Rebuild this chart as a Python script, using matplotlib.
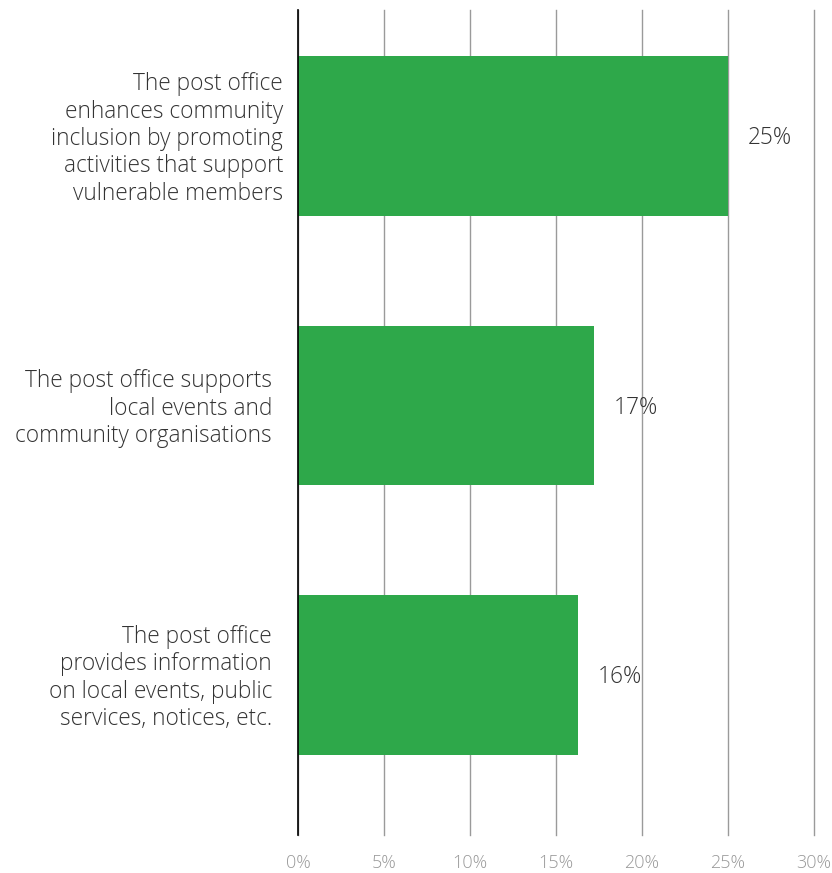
import matplotlib.pyplot as plt
from matplotlib import font_manager

statements = [
    "The post office\nenhances community\ninclusion by promoting\nactivities that support\nvulnerable members",
    "The post office supports\nlocal events and\ncommunity organisations",
    "The post office\nprovides information\non local events, public\nservices, notices, etc.",
]
shares = [25.0, 17.2, 16.3]
ticks = [0, 5, 10, 15, 20, 25, 30]

green = "#2ea84a"
textcol = "#333333"

family = "Open Sans"
names = {f.name for f in font_manager.fontManager.ttflist}
if family not in names:
    family = "DejaVu Sans"
plt.rcParams["font.family"] = [family, "DejaVu Sans"]

fig = plt.figure(figsize=(8.32, 8.73), dpi=100)
ax = fig.add_axes([298 / 832, 38 / 873, 516 / 832, 825 / 873])

pos = list(range(len(statements)))
ax.barh(pos, shares, height=0.593, color=green, zorder=3)
ax.set_xlim(0, 30)
ax.set_ylim(2.593, -0.467)

ax.set_xticks(ticks)
ax.set_xticklabels([f"{t}%" for t in ticks], color="#999999", fontsize=13, fontweight="light")
ax.tick_params(axis="x", length=0, pad=14)
ax.set_yticks([])
ax.grid(axis="x", color="#9a9a9a", linewidth=1, zorder=1)
for gl in ax.get_xgridlines():
    gl.set_clip_on(False)

for s in ["top", "right", "bottom"]:
    ax.spines[s].set_visible(False)
ax.spines["left"].set_color("black")
ax.spines["left"].set_linewidth(1.2)
ax.spines["left"].set_zorder(4)

# statement text sits to the left of the axis line (offsets in px)
offsets = [-15, -26, -26]
for y, txt, dx in zip(pos, statements, offsets):
    ax.annotate(txt, xy=(0, y), xytext=(dx * 0.72, -2.2), textcoords="offset points",
                ha="right", va="center", fontsize=16.3, color=textcol,
                fontweight="light", linespacing=1.19)

for y, v in zip(pos, shares):
    ax.annotate(f"{v:.0f}%", xy=(v, y), xytext=(14, -1.5), textcoords="offset points",
                ha="left", va="center", fontsize=16.3, color=textcol,
                fontweight="light", zorder=5)

fig.savefig("out.png", dpi=100)
